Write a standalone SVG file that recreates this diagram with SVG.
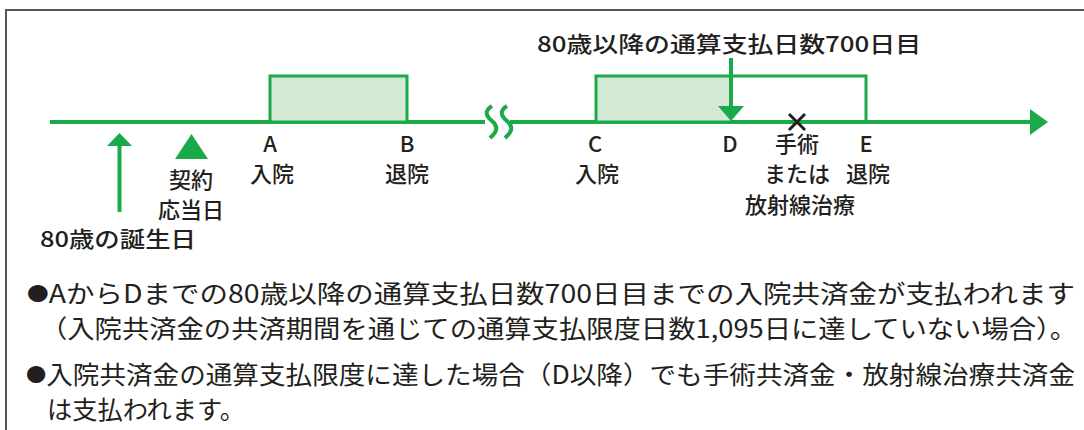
<svg xmlns="http://www.w3.org/2000/svg" width="1084" height="430" viewBox="0 0 1084 430">
<style>
.t{font-family:"Noto Sans CJK JP","Noto Sans",sans-serif;fill:#231f20;font-size:22px;font-weight:500}
.c{text-anchor:middle}
.b{font-size:25px;font-weight:400}
.dot{font-size:19px;baseline-shift:2px}
.g{stroke:#1aaa4a;stroke-width:4;fill:none}
.gf{fill:#1aaa4a}
</style>
<rect width="1084" height="430" fill="#fff"/>
<path d="M6 430 V10 H1084" fill="none" stroke="#555" stroke-width="2"/>
<g id="connectors">
<path class="g" d="M50 122 H485 M510 122 H1032"/>
<path class="gf" d="M1030 109 L1048 122 L1030 135 Z"/>
<path d="M492 106 c-8 5 -6 10 0 15 c6 5 6 10 -2 17 M507 106 c-8 5 -6 10 0 15 c6 5 6 10 -2 17" stroke="#1aaa4a" stroke-width="4" fill="none"/>
</g>
<g id="boxAB"><rect x="270" y="76" width="137" height="46" fill="#d3e9d5" stroke="#1aaa4a" stroke-width="3"/></g>
<g id="boxCE">
<rect x="596" y="76" width="134" height="46" fill="#d3e9d5"/>
<rect x="596" y="76" width="270" height="46" fill="none" stroke="#1aaa4a" stroke-width="3"/>
</g>
<g id="birthday">
<line x1="119.5" y1="144" x2="119.5" y2="212" class="g"/>
<path class="gf" d="M107 146 L119.5 133 L132 146 Z"/>
<text class="t" x="40" y="247" textLength="156" lengthAdjust="spacingAndGlyphs">80歳の誕生日</text>
</g>
<g id="contract">
<path class="gf" d="M175 159 L191.5 134 L208 159 Z"/>
<text class="t c" x="191" y="188">契約</text>
<text class="t c" x="191" y="218">応当日</text>
</g>
<g id="A"><text class="t c" x="270" y="152">A</text><text class="t c" x="272" y="182">入院</text></g>
<g id="B"><text class="t c" x="407" y="152">B</text><text class="t c" x="407" y="182">退院</text></g>
<g id="C"><text class="t c" x="595" y="152">C</text><text class="t c" x="597" y="182">入院</text></g>
<g id="D">
<line x1="731" y1="58" x2="731" y2="110" class="g"/>
<path class="gf" d="M718 106 L744 106 L731 121 Z"/>
<text class="t" x="537" y="52" textLength="384" lengthAdjust="spacingAndGlyphs">80歳以降の通算支払日数700日目</text>
<text class="t c" x="730" y="152">D</text>
</g>
<g id="surgery">
<path d="M789 114 L805 130 M805 114 L789 130" stroke="#231f20" stroke-width="3"/>
<text class="t c" x="797" y="152">手術</text>
<text class="t c" x="797" y="182">または</text>
<text class="t c" x="800" y="213">放射線治療</text>
</g>
<g id="E"><text class="t c" x="866" y="152">E</text><text class="t c" x="868" y="182">退院</text></g>
<g id="notes">
<text class="t b" x="27" y="303" textLength="1048" lengthAdjust="spacingAndGlyphs"><tspan class="dot">●</tspan>AからDまでの80歳以降の通算支払日数700日目までの入院共済金が支払われます</text>
<text class="t b" x="40" y="338" textLength="1037" lengthAdjust="spacingAndGlyphs">（入院共済金の共済期間を通じての通算支払限度日数1,095日に達していない場合）。</text>
<text class="t b" x="26" y="384" textLength="1049" lengthAdjust="spacingAndGlyphs"><tspan class="dot">●</tspan>入院共済金の通算支払限度に達した場合（D以降）でも手術共済金・放射線治療共済金</text>
<text class="t b" x="47" y="419" textLength="198" lengthAdjust="spacingAndGlyphs">は支払われます。</text>
</g>
</svg>
